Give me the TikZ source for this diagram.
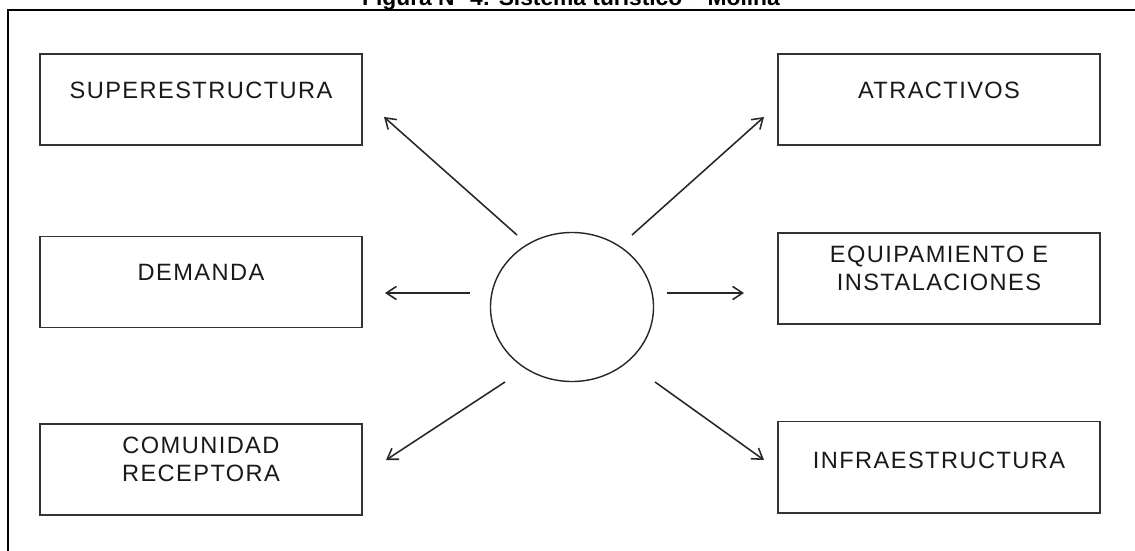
\documentclass[tikz,border=0pt]{standalone}
\usepackage{fontspec}
\setmainfont{Liberation Sans}
\newfontfamily\boxfont[LetterSpace=6]{Liberation Sans}
\usetikzlibrary{positioning, arrows.meta, shapes.geometric, calc}
\tikzset{
  >={Straight Barb[length=2.5mm, width=3.3mm]},
  box/.style={draw=black!80, line width=1.4pt, minimum width=8.05cm, minimum height=2.275cm, inner sep=0pt},
  txt/.style={font=\boxfont\fontsize{16.8}{20}\selectfont, align=center, text=black!90, inner sep=0pt},
  arr/.style={->, line width=1.1pt, draw=black!85},
}

\begin{document}
\begin{tikzpicture}[x=0.025cm, y=-0.025cm]
  \useasboundingbox (0,0) rectangle (1135,551);
  \clip (0,0) rectangle (1135,551);
  \node[font=\bfseries\fontsize{16.2}{19}\selectfont, anchor=base, inner sep=0pt] (titulo) at (571,6) {Figura N° 4: Sistema turístico – Molina};
  \draw[line width=2.1pt] (8,560) -- (8,10) -- (1140,10);

  % cajas de la izquierda
  \node[box] (sup) at (201,99.5) {};
  \node[box] (dem) at (201,282) {};
  \node[box] (com) at (201,469.5) {};
  % cajas de la derecha
  \node[box] (atr) at (939,99.5) {};
  \node[box] (equ) at (939,278.5) {};
  \node[box] (inf) at (939,467) {};

  \node[txt] (supt) at ($(sup)+(0,-9)$) {SUPERESTRUCTURA};
  \node[txt] (demt) at ($(dem)+(0,-10)$) {DEMANDA};
  \node[txt] (comt) at ($(com)+(0,-10)$) {COMUNIDAD\\RECEPTORA};
  \node[txt] (atrt) at ($(atr)+(0,-9)$) {ATRACTIVOS};
  \node[txt] (equt) at ($(equ)+(0,-10)$) {EQUIPAMIENTO E\\INSTALACIONES};
  \node[txt] (inft) at ($(inf)+(0,-7)$) {INFRAESTRUCTURA};

  \node[draw=black!85, line width=1pt, ellipse, inner sep=0pt, minimum width=4.075cm, minimum height=3.725cm] (hub) at (572,307) {};

  \draw[arr] ($(hub)+(-55,-72)$) -- ($(sup.east)+(21,17.5)$);
  \draw[arr] ($(hub)+(-102,-14)$) -- ($(dem.east)+(22,11)$);
  \draw[arr] ($(hub)+(-67,75)$) -- ($(com.east)+(23,-9.5)$);
  \draw[arr] ($(hub)+(60,-72)$) -- ($(atr.west)+(-13,17.5)$);
  \draw[arr] ($(hub)+(95,-14)$) -- ($(equ.west)+(-33,14.5)$);
  \draw[arr] ($(hub)+(83,75)$) -- ($(inf.west)+(-13,-7)$);
\end{tikzpicture}
\end{document}
